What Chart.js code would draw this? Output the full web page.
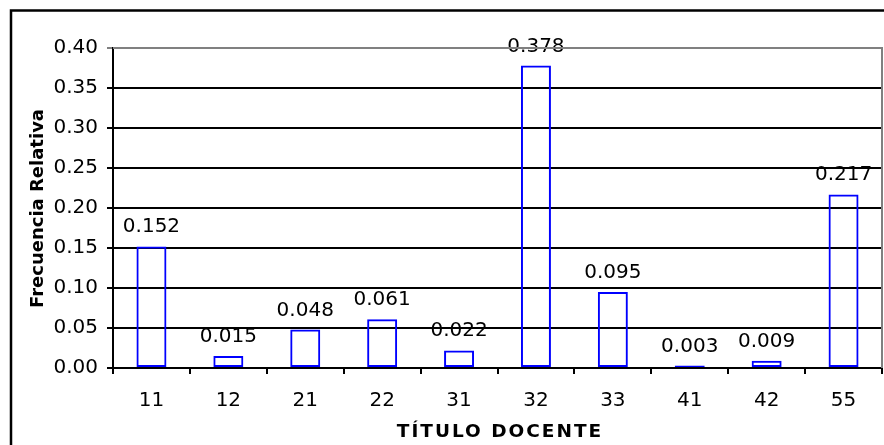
<!DOCTYPE html>
<html>
<head>
<meta charset="utf-8">
<script src="https://cdn.jsdelivr.net/npm/chart.js@4.4.1/dist/chart.umd.min.js"></script>
<style>
  body { margin: 0; background: #fff; }
  canvas { display: block; }
</style>
</head>
<body>
<canvas id="frecChart" width="884" height="445"></canvas>
<script>
// Datos del grafico
const categories = ["11", "12", "21", "22", "31", "32", "33", "41", "42", "55"];
const frecuencia = [0.152, 0.015, 0.048, 0.061, 0.022, 0.378, 0.095, 0.003, 0.009, 0.217];
const yTicks = [0.00, 0.05, 0.10, 0.15, 0.20, 0.25, 0.30, 0.35, 0.40];
const yTitle = "Frecuencia Relativa";
const xTitle = "TÍTULO DOCENTE";

const FONT = "'DejaVu Sans', Verdana, sans-serif";
Chart.defaults.font.family = FONT;
Chart.defaults.color = "#000";

// marco, titulos y etiquetas de valor
const decorPlugin = {
    id: "decor",
    beforeDraw(chart) {
        const ctx = chart.ctx;
        const area = chart.chartArea;

        ctx.save();
        ctx.strokeStyle = "#000";
        ctx.lineWidth = 2.5;
        ctx.beginPath();
        ctx.moveTo(11, 445);
        ctx.lineTo(11, 10.5);
        ctx.lineTo(884, 10.5);
        ctx.stroke();

        // etiquetas encima de las barras
        ctx.font = "20px " + FONT;
        ctx.textAlign = "center";
        ctx.textBaseline = "alphabetic";
        ctx.fillStyle = "#000";
        chart.getDatasetMeta(0).data.forEach((bar, i) => {
            ctx.fillText(frecuencia[i].toFixed(3), bar.x, bar.y - 14);
        });

        // titulo eje y
        ctx.font = "bold 18px " + FONT;
        ctx.translate(42.5, (area.top + area.bottom) / 2 + 0.5);
        ctx.rotate(-Math.PI / 2);
        ctx.fillText(yTitle, 0, 0);
        ctx.restore();

        // titulo eje x
        ctx.save();
        ctx.font = "bold 18.5px " + FONT;
        ctx.letterSpacing = "2px";
        ctx.textAlign = "center";
        ctx.textBaseline = "alphabetic";
        ctx.fillStyle = "#000";
        ctx.fillText(xTitle, 500, 437);
        ctx.restore();
    },
    afterDraw(chart) {
        const ctx = chart.ctx;
        const area = chart.chartArea;
        ctx.save();
        ctx.strokeStyle = "#808080";
        ctx.lineWidth = 2;
        ctx.beginPath();
        ctx.moveTo(area.left, area.top);
        ctx.lineTo(area.right, area.top);
        ctx.lineTo(area.right, area.bottom);
        ctx.stroke();
        ctx.restore();
    }
};

const ctx = document.getElementById("frecChart").getContext("2d");

const frecChart = new Chart(ctx, {
    type: "bar",
    data: {
        labels: categories,
        datasets: [{
            data: frecuencia,
            backgroundColor: "rgba(0,0,0,0)",
            borderColor: "#0000ff",
            borderWidth: 2,
            borderSkipped: false,
            categoryPercentage: 1,
            barPercentage: 0.39
        }]
    },
    options: {
        responsive: false,
        animation: false,
        layout: { padding: { left: 12, right: 2, top: 48, bottom: 0 } },
        plugins: {
            legend: { display: false },
            tooltip: { enabled: false }
        },
        scales: {
            x: {
                grid: {
                    offset: true,
                    drawOnChartArea: false,
                    color: "#000",
                    lineWidth: 2,
                    tickLength: 6
                },
                border: { color: "#000", width: 2 },
                ticks: {
                    font: { size: 20 },
                    padding: 15,
                    maxRotation: 0
                },
                afterFit(scale) { scale.height = 77; }
            },
            y: {
                min: 0,
                max: 0.40,
                afterBuildTicks(scale) {
                    scale.ticks = yTicks.map(v => ({ value: v }));
                },
                grid: {
                    color: c => (c.tick && c.tick.value >= 0.4 ? "#808080" : "#000"),
                    lineWidth: 2,
                    tickLength: 6
                },
                border: { color: "#000", width: 2 },
                ticks: {
                    font: { size: 20 },
                    padding: 9,
                    callback: v => Number(v).toFixed(2)
                },
                afterFit(scale) { scale.width = 101; }
            }
        }
    },
    plugins: [decorPlugin]
});
</script>
</body>
</html>
